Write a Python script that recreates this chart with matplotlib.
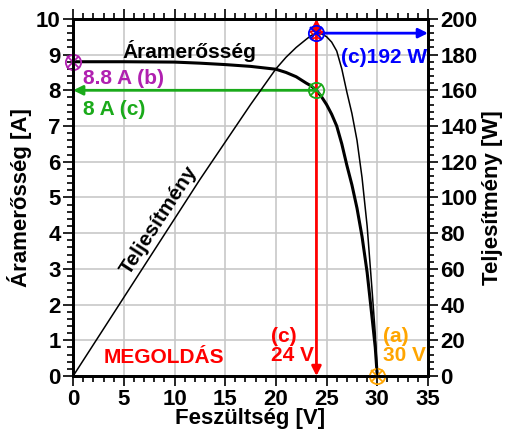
import matplotlib.pyplot as plt
from matplotlib.ticker import MultipleLocator

plt.rcParams["font.family"] = ["Liberation Sans", "DejaVu Sans"]
plt.rcParams["font.weight"] = "bold"

# I-V curve
voltage = [0, 5, 10, 12.5, 15, 17.5, 20, 21, 22, 23, 23.5, 24, 24.5, 25, 25.5, 26, 26.5,
           27, 27.5, 28, 28.5, 29, 29.5, 29.8, 30]
current = [8.8, 8.8, 8.79, 8.76, 8.72, 8.67, 8.59, 8.5, 8.38, 8.2, 8.12, 8.0, 7.82, 7.6, 7.33,
           7.0, 6.5, 5.9, 5.35, 4.7, 3.9, 2.9, 1.6, 0.8, 0]
# power curve (W), right axis
power = [0, 44, 88, 110, 131, 152, 172, 178.5, 184, 188.6, 190.8, 192, 191.6, 190, 187,
         182, 172, 159, 147, 132, 111, 84, 47, 24, 0]

v_mpp, i_mpp, p_mpp = 24, 8, 192
i_sc, v_oc = 8.8, 30

fig = plt.figure(figsize=(5.15, 4.29), dpi=100)
ax = fig.add_axes([0.142, 0.1235, 0.689, 0.8325])
ax2 = ax.twinx()

ax.set_xlim(0, 35)
ax.set_ylim(0, 10)
ax2.set_ylim(0, 200)

ax.xaxis.set_major_locator(MultipleLocator(5))
ax.xaxis.set_minor_locator(MultipleLocator(1))
ax.yaxis.set_major_locator(MultipleLocator(1))
ax.yaxis.set_minor_locator(MultipleLocator(0.2))
ax2.yaxis.set_major_locator(MultipleLocator(20))
ax2.yaxis.set_minor_locator(MultipleLocator(4))

ax.grid(True, which="major", color="#c8c8c8", lw=1.2)
ax.set_axisbelow(True)

ax.tick_params(axis="both", which="both", direction="out", top=True, labelsize=16, width=1.2, pad=2)
ax.tick_params(which="major", length=7)
ax.tick_params(which="minor", length=4)
ax2.tick_params(which="both", direction="out", labelsize=16, width=1.2, pad=2)
ax2.tick_params(which="major", length=7)
ax2.tick_params(which="minor", length=4)
for lab in ax.get_xticklabels() + ax.get_yticklabels() + ax2.get_yticklabels():
    lab.set_fontweight("bold")
for sp in ax.spines.values():
    sp.set_linewidth(2)
for sp in ax2.spines.values():
    sp.set_linewidth(2)

ax.set_xlabel("Feszültség [V]", fontsize=16, fontweight="bold", labelpad=-1)
ax.set_ylabel("Áramerősség [A]", fontsize=16, fontweight="bold", labelpad=3)
ax2.set_ylabel("Teljesítmény [W]", fontsize=16, fontweight="bold", labelpad=3)

ax.plot(voltage, current, color="black", lw=2.2, zorder=3)
ax2.plot(voltage, power, color="black", lw=1.1, zorder=3)

# arrows
ax.annotate("", xy=(v_mpp, 0), xytext=(v_mpp, 10),
            arrowprops=dict(arrowstyle="<|-|>", color="red", lw=2, mutation_scale=14, shrinkA=0, shrinkB=0))
ax.annotate("", xy=(0, i_mpp), xytext=(v_mpp, i_mpp),
            arrowprops=dict(arrowstyle="-|>", color="#1aaa1a", lw=2, mutation_scale=14, shrinkA=0, shrinkB=0))
ax2.annotate("", xy=(35, p_mpp), xytext=(v_mpp, p_mpp),
             arrowprops=dict(arrowstyle="-|>", color="blue", lw=2, mutation_scale=14, shrinkA=0, shrinkB=0))


def crossed(a, x, y, color):
    a.plot([x], [y], marker="o", ms=11, mfc="none", mec=color, mew=1.3, zorder=5, clip_on=False)
    a.plot([x], [y], marker="x", ms=8, color=color, mew=1.3, zorder=5, clip_on=False)


crossed(ax, 0, i_sc, "#b020b0")
crossed(ax, v_mpp, i_mpp, "#1aaa1a")
ax2.plot([v_mpp], [p_mpp], marker="*", ms=11, mfc="none", mec="red", mew=1, zorder=5)
crossed(ax2, v_mpp, p_mpp, "blue")
crossed(ax, v_oc, 0, "orange")

# labels
ax.text(11.45, 9.1, "Áramerősség", fontsize=15, fontweight="bold", ha="center", va="center", zorder=6)
ax.text(1.0, 8.32, "8.8 A (b)", color="#b020b0", fontsize=15, fontweight="bold", va="center", zorder=6)
ax.text(1.0, 7.45, "8 A (c)", color="#1aaa1a", fontsize=15, fontweight="bold", va="center", zorder=6)
ax.text(34.9, 8.92, "(c)192 W", color="blue", fontsize=15, fontweight="bold", ha="right", va="center", zorder=6)
ax.text(19.5, 0.84, "(c)\n24 V", color="red", fontsize=15, fontweight="bold", ha="left", va="center",
        linespacing=1.05, zorder=6)
ax.text(30.6, 0.84, "(a)\n30 V", color="orange", fontsize=15, fontweight="bold", ha="left", va="center",
        linespacing=1.05, zorder=6)
ax.text(9.0, 0.53, "MEGOLDÁS", color="red", fontsize=15, fontweight="bold", ha="center", va="center", zorder=6)
ax.text(8.5, 4.35, "Teljesítmény", fontsize=15, fontweight="bold", ha="center", va="center",
        rotation=57, rotation_mode="anchor", zorder=6)

fig.savefig("out.png", dpi=100)
